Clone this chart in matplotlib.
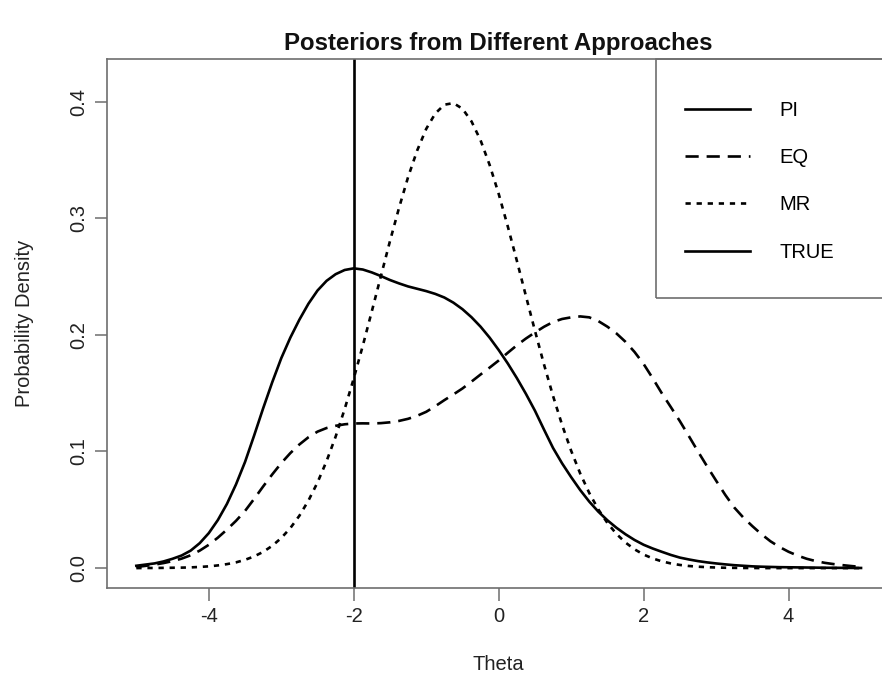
import numpy as np
import matplotlib.pyplot as plt
from matplotlib.patches import Rectangle

plt.rcParams['font.family'] = ['Liberation Sans', 'DejaVu Sans']
plt.rcParams['axes.unicode_minus'] = False

# Posterior densities on a grid of theta values (step 0.125)
theta = np.linspace(-5, 5, 81)

pi_dens = [0.002, 0.003, 0.004, 0.0057, 0.008, 0.0108, 0.015, 0.0214, 0.030, 0.0412,
           0.055, 0.0717, 0.091, 0.1136, 0.137, 0.1593, 0.180, 0.1976, 0.213, 0.2267,
           0.238, 0.2463, 0.252, 0.2556, 0.257, 0.2560, 0.2535, 0.2504, 0.247, 0.2441,
           0.2415, 0.2395, 0.2375, 0.2351, 0.232, 0.2276, 0.222, 0.2151, 0.207, 0.1976,
           0.187, 0.1755, 0.163, 0.1495, 0.135, 0.1188, 0.103, 0.0898, 0.078, 0.0669,
           0.057, 0.0484, 0.041, 0.0346, 0.029, 0.0241, 0.020, 0.0168, 0.014, 0.0113,
           0.009, 0.0074, 0.006, 0.0049, 0.004, 0.0032, 0.0025, 0.0020, 0.0015, 0.0012,
           0.001, 0.0008, 0.0007, 0.0006, 0.0005, 0.0004, 0.0003, 0.00025, 0.0002,
           0.00015, 0.0001]

eq_dens = [0.001, 0.0019, 0.003, 0.0043, 0.006, 0.0081, 0.011, 0.015, 0.020, 0.0261,
           0.033, 0.0405, 0.049, 0.0593, 0.070, 0.0803, 0.090, 0.0986, 0.106, 0.1122,
           0.117, 0.1201, 0.122, 0.1233, 0.124, 0.1241, 0.124, 0.1243, 0.125, 0.1262,
           0.128, 0.1306, 0.134, 0.1388, 0.144, 0.1489, 0.154, 0.1599, 0.166, 0.1719,
           0.178, 0.1846, 0.191, 0.1968, 0.202, 0.2069, 0.211, 0.2136, 0.215, 0.2158,
           0.215, 0.2118, 0.207, 0.2012, 0.194, 0.1853, 0.175, 0.1628, 0.150, 0.1381,
           0.126, 0.1131, 0.100, 0.0873, 0.075, 0.0629, 0.052, 0.0434, 0.036, 0.0291,
           0.023, 0.0181, 0.014, 0.0107, 0.008, 0.006, 0.0045, 0.0034, 0.0025, 0.0017,
           0.001]

mr_dens = [0.0, 0.0001, 0.0001, 0.0002, 0.0003, 0.0004, 0.0006, 0.0010, 0.0015, 0.0023,
           0.0034, 0.0049, 0.0071, 0.0100, 0.0139, 0.0191, 0.0258, 0.0343, 0.0449, 0.0579,
           0.0734, 0.0917, 0.1127, 0.1364, 0.1626, 0.1907, 0.2203, 0.2504, 0.2804, 0.3089,
           0.3353, 0.3580, 0.3766, 0.3898, 0.3973, 0.3987, 0.3939, 0.3830, 0.3668, 0.3457,
           0.3209, 0.2931, 0.2637, 0.2335, 0.2036, 0.1747, 0.1476, 0.1228, 0.1006, 0.0811,
           0.0644, 0.0503, 0.0387, 0.0293, 0.0219, 0.0161, 0.0116, 0.0083, 0.0058, 0.0040,
           0.0027, 0.0018, 0.0012, 0.0008, 0.0005, 0.0003, 0.0002, 0.0001, 0.0001, 0.0,
           0.0, 0.0, 0.0, 0.0, 0.0, 0.0, 0.0, 0.0, 0.0, 0.0, 0.0]

true_theta = -2

labels = ['PI', 'EQ', 'MR', 'TRUE']

frame_col = '#6e6e6e'
text_col = '#222222'
lw = 1.9
fs = 14.5

fig = plt.figure(figsize=(8.82, 6.95), dpi=100)
ax = fig.add_axes([0.1217, 0.1544, 0.8874, 0.7612])

l_pi, = ax.plot(theta, pi_dens, color='black', lw=lw)
l_eq, = ax.plot(theta, eq_dens, color='black', lw=lw, linestyle=(0, (5, 3)))
l_mr, = ax.plot(theta, mr_dens, color='black', lw=lw, linestyle=(0, (2, 2.2)))
l_true = ax.axvline(true_theta, color='black', lw=lw)

ax.set_xlim(-5.4, 5.4)
ax.set_ylim(-0.0168, 0.4368)
ax.set_xticks([-4, -2, 0, 2, 4])
ax.set_yticks([0.0, 0.1, 0.2, 0.3, 0.4])
ax.set_yticklabels(['0.0', '0.1', '0.2', '0.3', '0.4'])

for s in ax.spines.values():
    s.set_color(frame_col)
    s.set_linewidth(1.2)
ax.tick_params(length=9, width=1.1, color=frame_col, labelsize=fs,
               labelcolor=text_col, pad=5)
ax.tick_params(axis='y', labelrotation=90)
for t in ax.get_yticklabels():
    t.set_va('center')

ax.set_xlabel('Theta', fontsize=fs, color=text_col, labelpad=21)
ax.set_ylabel('Probability Density', fontsize=fs, color=text_col, labelpad=25)
ax.set_title('Posteriors from Different Approaches', fontsize=17.3,
             fontweight='bold', color='#111111', pad=6)

# legend box in the top right corner
ax.add_patch(Rectangle((0.7007, 0.548), 0.35, 0.452, transform=ax.transAxes,
                       fill=False, edgecolor=frame_col, lw=1.2, clip_on=False))
ax.legend([l_pi, l_eq, l_mr, l_true], labels, loc='upper left',
          bbox_to_anchor=(0.7381, 0.9206), frameon=False, fontsize=fs,
          borderpad=0, borderaxespad=0, handlelength=3.23, handletextpad=1.44,
          labelspacing=1.41)

fig.savefig('out.png', dpi=100)
